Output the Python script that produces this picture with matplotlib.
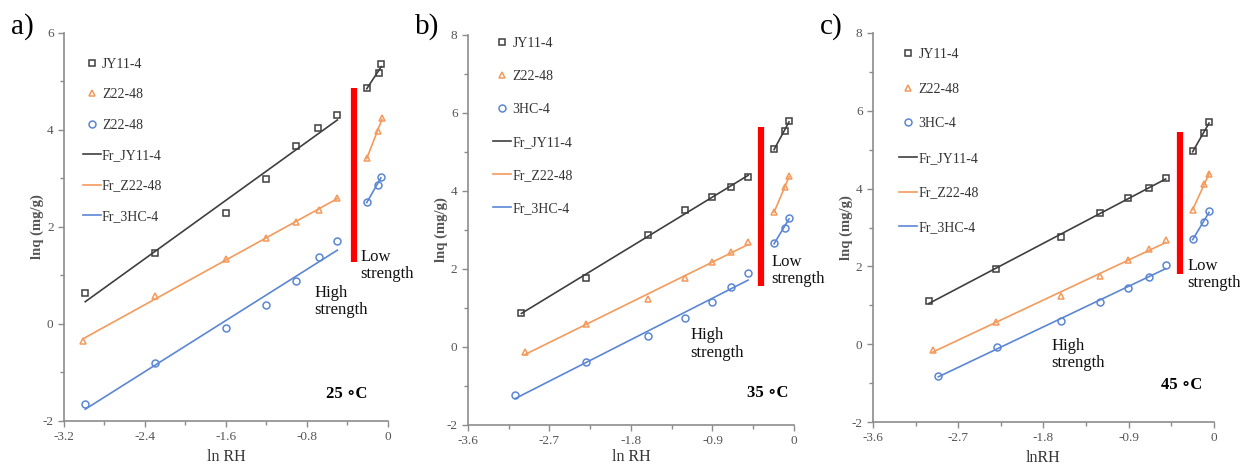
import numpy as np
import matplotlib
matplotlib.use("Agg")
import matplotlib.pyplot as plt
from matplotlib.ticker import MultipleLocator

plt.rcParams['font.family'] = ['Liberation Serif', 'DejaVu Serif']
plt.rcParams['axes.unicode_minus'] = False

# ln RH for the high-strength (7 points) and low-strength (3 points) ranges
# 25 C
a_jy_x = [-2.99, -2.30, -1.60, -1.20, -0.91, -0.69, -0.50]
a_jy_y = [0.63, 1.46, 2.28, 2.99, 3.67, 4.04, 4.31]
a_jy_xl = [-0.21, -0.09, -0.066]
a_jy_yl = [4.86, 5.17, 5.36]
a_z_x = [-3.01, -2.30, -1.60, -1.20, -0.91, -0.685, -0.50]
a_z_y = [-0.35, 0.58, 1.33, 1.77, 2.11, 2.35, 2.59]
a_z_xl = [-0.21, -0.10, -0.06]
a_z_yl = [3.42, 3.97, 4.24]
a_hc_x = [-2.99, -2.30, -1.60, -1.20, -0.91, -0.685, -0.50]
a_hc_y = [-1.66, -0.80, -0.08, 0.40, 0.88, 1.39, 1.72]
a_hc_xl = [-0.21, -0.10, -0.07]
a_hc_yl = [2.51, 2.87, 3.04]

# 35 C
b_jy_x = [-3.01, -2.30, -1.61, -1.205, -0.91, -0.69, -0.507]
b_jy_y = [0.88, 1.78, 2.87, 3.52, 3.84, 4.09, 4.37]
b_jy_xl = [-0.22, -0.10, -0.055]
b_jy_yl = [5.07, 5.54, 5.80]
b_z_x = [-2.975, -2.30, -1.61, -1.205, -0.91, -0.69, -0.507]
b_z_y = [-0.14, 0.59, 1.24, 1.76, 2.19, 2.44, 2.70]
b_z_xl = [-0.22, -0.10, -0.055]
b_z_yl = [3.46, 4.09, 4.38]
b_hc_x = [-3.08, -2.30, -1.61, -1.205, -0.91, -0.69, -0.507]
b_hc_y = [-1.23, -0.39, 0.29, 0.74, 1.16, 1.55, 1.91]
b_hc_xl = [-0.22, -0.10, -0.055]
b_hc_yl = [2.66, 3.06, 3.32]

# 45 C
c_jy_x = [-3.01, -2.30, -1.61, -1.20, -0.91, -0.69, -0.51]
c_jy_y = [1.10, 1.93, 2.75, 3.36, 3.76, 4.02, 4.28]
c_jy_xl = [-0.225, -0.10, -0.052]
c_jy_yl = [4.96, 5.43, 5.72]
c_z_x = [-2.97, -2.30, -1.61, -1.20, -0.91, -0.69, -0.51]
c_z_y = [-0.14, 0.57, 1.24, 1.75, 2.16, 2.44, 2.69]
c_z_xl = [-0.225, -0.10, -0.052]
c_z_yl = [3.46, 4.12, 4.38]
c_hc_x = [-2.91, -2.29, -1.61, -1.20, -0.91, -0.69, -0.51]
c_hc_y = [-0.83, -0.06, 0.60, 1.08, 1.44, 1.74, 2.03]
c_hc_xl = [-0.225, -0.10, -0.052]
c_hc_yl = [2.70, 3.15, 3.42]

panel_tags = ["a)", "b)", "c)"]
temps = ["25 \u2218C", "35 \u2218C", "45 \u2218C"]
xlabels = ["ln RH", "ln RH", "lnRH"]
point_labels = [["JY11-4", "Z22-48", "Z22-48"],
                ["JY11-4", "Z22-48", "3HC-4"],
                ["JY11-4", "Z22-48", "3HC-4"]]
fit_labels = ["Fr_JY11-4", "Fr_Z22-48", "Fr_3HC-4"]

black = "#3f3f3f"
orange = "#f39a5c"
blue = "#5b86d4"
grey = "#8c8c8c"
txt = "#555555"

panels = [
    [(a_jy_x, a_jy_y, a_jy_xl, a_jy_yl), (a_z_x, a_z_y, a_z_xl, a_z_yl), (a_hc_x, a_hc_y, a_hc_xl, a_hc_yl)],
    [(b_jy_x, b_jy_y, b_jy_xl, b_jy_yl), (b_z_x, b_z_y, b_z_xl, b_z_yl), (b_hc_x, b_hc_y, b_hc_xl, b_hc_yl)],
    [(c_jy_x, c_jy_y, c_jy_xl, c_jy_yl), (c_z_x, c_z_y, c_z_xl, c_z_yl), (c_hc_x, c_hc_y, c_hc_xl, c_hc_yl)],
]

boxes = [[0.0516, 0.0966, 0.2613, 0.8326],
         [0.3774, 0.0880, 0.2629, 0.8369],
         [0.7040, 0.0944, 0.2750, 0.8348]]
xlims = [(-3.2, 0), (-3.6, 0), (-3.6, 0)]
ylims = [(-2, 6), (-2, 8), (-2, 8)]
xsteps = [0.8, 0.9, 0.9]
ysteps = [2, 2, 2]

# red divider between the two strength regions: x, ymin, ymax
dividers = [(-0.339, 1.28, 4.86), (-0.36, 1.57, 5.63), (-0.355, 1.80, 5.45)]
low_pos = [(-0.27, 1.55), (-0.25, 2.38), (-0.28, 2.22)]
high_pos = [(-0.73, 0.80), (-1.14, 0.50), (-1.72, 0.16)]
temp_pos = [(-0.41, -1.44), (-0.29, -1.17), (-0.34, -1.06)]
leg_space = [1.25, 1.45, 1.55]
leg_anchor = [(0.04, 0.95), (0.06, 1.01), (0.06, 0.975)]
xpads = [4, 1, 4]

colors = [black, orange, blue]
markers = ["s", "^", "o"]

fig = plt.figure(figsize=(12.4, 4.66), dpi=100)

for i in range(3):
    ax = fig.add_axes(boxes[i])
    handles_pts = []
    handles_fit = []
    for j, (x, y, xl, yl) in enumerate(panels[i]):
        c = colors[j]
        h = ax.plot(x, y, linestyle="none", marker=markers[j], markersize=5,
                    markerfacecolor="none", markeredgecolor=c, markeredgewidth=1.1,
                    label=point_labels[i][j])[0]
        ax.plot(xl, yl, linestyle="none", marker=markers[j], markersize=5,
                markerfacecolor="none", markeredgecolor=c, markeredgewidth=1.1)
        handles_pts.append(h)
        # linear fits of each strength range
        for xs, ys in ((x, y), (xl, yl)):
            k, b = np.polyfit(xs, ys, 1)
            xx = np.array([min(xs), max(xs)])
            ax.plot(xx, k * xx + b, color=c, lw=1.2)
        handles_fit.append(ax.plot([], [], color=c, lw=1.2, label=fit_labels[j])[0])

    dx, y0, y1 = dividers[i]
    ax.plot([dx, dx], [y0, y1], color="#ff0000", lw=4.5, solid_capstyle="butt")

    ax.text(low_pos[i][0], low_pos[i][1], "Low\nstrength", fontsize=12,
            va="top", ha="left", color="#111111", linespacing=1.1)
    ax.text(high_pos[i][0], high_pos[i][1], "High\nstrength", fontsize=12,
            va="top", ha="left", color="#111111", linespacing=1.1)
    ax.text(temp_pos[i][0], temp_pos[i][1], temps[i], fontsize=12,
            fontweight="bold", ha="center", va="center", color="black")

    ax.set_xlim(*xlims[i])
    ax.set_ylim(*ylims[i])
    ax.xaxis.set_major_locator(MultipleLocator(xsteps[i]))
    ax.xaxis.set_minor_locator(MultipleLocator(xsteps[i] / 2))
    ax.yaxis.set_major_locator(MultipleLocator(ysteps[i]))
    ax.yaxis.set_minor_locator(MultipleLocator(1))
    ax.xaxis.set_major_formatter(lambda v, p: "0" if abs(v) < 1e-9 else "%g" % v)

    for s in ("top", "right"):
        ax.spines[s].set_visible(False)
    for s in ("left", "bottom"):
        ax.spines[s].set_color(grey)
        ax.spines[s].set_linewidth(1.2)
    ax.tick_params(which="both", direction="out", color=grey, width=1.0,
                   labelsize=9.5, labelcolor=txt)
    ax.tick_params(which="major", length=4)
    ax.tick_params(which="minor", length=3)

    ax.set_ylabel("lnq (mg/g)", fontsize=10.5, fontweight="bold", color=txt, labelpad=-1)
    ax.set_xlabel(xlabels[i], fontsize=11.5, color="#333333", labelpad=xpads[i])

    leg = ax.legend(handles=handles_pts + handles_fit, loc="upper left",
                    bbox_to_anchor=leg_anchor[i], frameon=False, fontsize=10,
                    labelspacing=leg_space[i], handlelength=1.3, handletextpad=0.1,
                    borderaxespad=0)
    for t in leg.get_texts():
        t.set_color("#333333")

    fig.text(boxes[i][0] - 0.043, 0.942, panel_tags[i], fontsize=21,
             ha="left", va="center", color="black")

fig.savefig("out.png", dpi=100)
